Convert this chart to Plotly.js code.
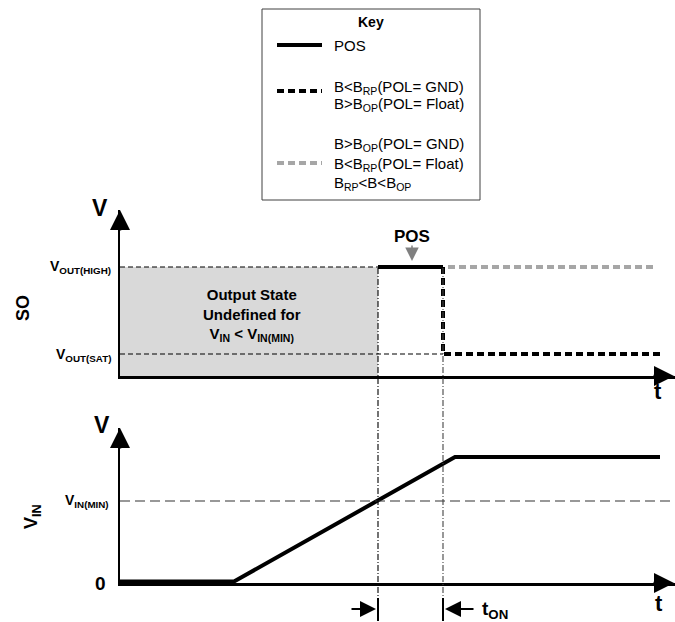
<!DOCTYPE html>
<html>
<head>
<meta charset="utf-8">
<script src="https://cdn.plot.ly/plotly-3.0.1.min.js"></script>
<style>html,body{margin:0;padding:0;background:#fff;}#chart{width:675px;height:622px;}</style>
</head>
<body>
<div id="chart"></div>
<script>
// ---- data (time in arbitrary units, voltages in arbitrary units) ----
const VOUT_HIGH = 10.9;
const VOUT_SAT = 2.2;
const VIN_MIN = 8.05;
const T_VIN_MIN = 25.8;   // VIN crosses VIN(MIN)
const T_ON_END = 32.3;    // end of tON
const T_AXIS_END = 55.5;

const tPos = [25.8, 32.3];
const soPos = [10.9, 10.9];
const tBlackDash = [32.3, 32.3, 54.0];
const soBlackDash = [10.9, 2.2, 2.2];
const tGrayDash = [32.8, 53.3];
const soGrayDash = [10.9, 10.9];
const tVin = [0, 11.4, 33.5, 54.0];
const vIn = [0, 0, 12.45, 12.45];

const keyLabels = [
  'POS',
  'B&lt;B<sub>RP</sub>(POL= GND)',
  'B&gt;B<sub>OP</sub>(POL= Float)',
  'B&gt;B<sub>OP</sub>(POL= GND)',
  'B&lt;B<sub>RP</sub>(POL= Float)',
  'B<sub>RP</sub>&lt;B&lt;B<sub>OP</sub>'
];

// ---- helpers for page placement ----
const W = 675, H = 622;
const P = px => px / W;
const Q = py => 1 - py / H;
const FONT = '"Liberation Sans", Arial, sans-serif';
const BLACK_DASH = '7px,4px';
const GRAY = '#a6a6a6';
const LW = 4;

const traces = [
  {x: tPos, y: soPos, xaxis: 'x', yaxis: 'y', mode: 'lines', name: 'POS',
   line: {color: '#000', width: LW}, hoverinfo: 'skip'},
  {x: tBlackDash, y: soBlackDash, xaxis: 'x', yaxis: 'y', mode: 'lines', name: 'black dash',
   line: {color: '#000', width: LW, dash: BLACK_DASH}, hoverinfo: 'skip'},
  {x: tGrayDash, y: soGrayDash, xaxis: 'x', yaxis: 'y', mode: 'lines', name: 'gray dash',
   line: {color: GRAY, width: LW, dash: BLACK_DASH}, hoverinfo: 'skip'},
  {x: tVin, y: vIn, xaxis: 'x2', yaxis: 'y2', mode: 'lines', name: 'VIN',
   line: {color: '#000', width: LW}, hoverinfo: 'skip'}
];

const axBase = {showgrid: false, zeroline: false, showticklabels: false, ticks: '',
  showline: true, linecolor: '#000', linewidth: 2.5, fixedrange: true};

const shapes = [
  // undefined region
  {type: 'rect', xref: 'x', yref: 'y', x0: 0, x1: T_VIN_MIN, y0: 0, y1: VOUT_HIGH,
   fillcolor: '#d9d9d9', line: {width: 0}, layer: 'below'},
  // reference levels
  {type: 'line', xref: 'x', yref: 'y', x0: 0, x1: T_VIN_MIN, y0: VOUT_HIGH, y1: VOUT_HIGH,
   line: {color: '#000', width: 1.1, dash: '5px,3px'}},
  {type: 'line', xref: 'x', yref: 'y', x0: 0, x1: T_ON_END, y0: VOUT_SAT, y1: VOUT_SAT,
   line: {color: '#000', width: 1.1, dash: '5px,3px'}},
  {type: 'line', xref: 'x2', yref: 'y2', x0: 0, x1: T_AXIS_END, y0: VIN_MIN, y1: VIN_MIN,
   line: {color: '#333', width: 1.1, dash: '10px,5px'}},
  // timing markers
  {type: 'line', xref: 'x', yref: 'paper', x0: T_VIN_MIN, x1: T_VIN_MIN, y0: Q(268), y1: Q(600),
   line: {color: '#000', width: 1.1, dash: '6px,2px,1px,2px'}},
  {type: 'line', xref: 'x', yref: 'paper', x0: T_ON_END, x1: T_ON_END, y0: Q(268), y1: Q(600),
   line: {color: '#444', width: 1.1, dash: '6px,2px,1px,2px'}},
  {type: 'line', xref: 'x', yref: 'paper', x0: T_VIN_MIN, x1: T_VIN_MIN, y0: Q(598), y1: Q(621),
   line: {color: '#000', width: 2}},
  {type: 'line', xref: 'x', yref: 'paper', x0: T_ON_END, x1: T_ON_END, y0: Q(598), y1: Q(621),
   line: {color: '#000', width: 2}},
  // key box
  {type: 'rect', xref: 'paper', yref: 'paper', x0: P(262), x1: P(480), y0: Q(9), y1: Q(200),
   line: {color: '#404040', width: 1}, fillcolor: 'rgba(0,0,0,0)'},
  {type: 'line', xref: 'paper', yref: 'paper', x0: P(277), x1: P(322), y0: Q(45), y1: Q(45),
   line: {color: '#000', width: LW}},
  {type: 'line', xref: 'paper', yref: 'paper', x0: P(277), x1: P(322), y0: Q(91), y1: Q(91),
   line: {color: '#000', width: LW, dash: BLACK_DASH}},
  {type: 'line', xref: 'paper', yref: 'paper', x0: P(277), x1: P(322), y0: Q(163), y1: Q(163),
   line: {color: GRAY, width: LW, dash: BLACK_DASH}}
];

function txt(px, py, text, size, opts) {
  return Object.assign({xref: 'paper', yref: 'paper', x: P(px), y: Q(py), text: text,
    showarrow: false, xanchor: 'center', yanchor: 'middle',
    font: {family: FONT, size: size, color: '#000'}}, opts || {});
}
function arrow(xref, x, yref, y, ax, ay, color, width, size) {
  return {xref: xref, yref: yref, x: x, y: y, ax: ax, ay: ay, text: '', showarrow: true,
    arrowhead: 2, arrowsize: size, arrowwidth: width, arrowcolor: color, standoff: 0};
}

const annotations = [
  // axis arrowheads
  arrow('x', 0, 'y', 16.6, 0, 22, '#000', 2.5, 1.6),
  arrow('x', T_AXIS_END - 0.1, 'y', 0, -22, 0, '#000', 2.5, 1.6),
  arrow('x2', 0, 'y2', 15.35, 0, 22, '#000', 2.5, 1.6),
  arrow('x2', T_AXIS_END - 0.1, 'y2', -0.15, -22, 0, '#000', 2.5, 1.6),
  // tON arrows
  arrow('x', T_VIN_MIN - 0.2, 'paper', Q(609), -26, 0, '#000', 2, 1.6),
  arrow('x', T_ON_END + 0.2, 'paper', Q(609), 30, 0, '#000', 2, 1.6),
  // POS pointer
  arrow('paper', P(412), 'paper', Q(261), 0, -17, '#808080', 1.5, 1.8),
  txt(412, 236, '<b>POS</b>', 17),
  txt(480, 610, '<b>t<sub>ON</sub></b>', 19, {xanchor: 'left'}),
  // axis labels
  txt(100, 208, '<b>V</b>', 23),
  txt(102, 425, '<b>V</b>', 23),
  txt(658, 391, '<b>t</b>', 22),
  txt(659, 603, '<b>t</b>', 22),
  txt(100, 583, '<b>0</b>', 19),
  txt(23, 308, '<b>SO</b>', 18, {textangle: -90}),
  txt(32, 517, '<b>V<sub>IN</sub></b>', 18, {textangle: -90}),
  txt(113, 267, '<b>V<sub>OUT(HIGH)</sub></b>', 14, {xanchor: 'right'}),
  txt(113, 355, '<b>V<sub>OUT(SAT)</sub></b>', 14, {xanchor: 'right'}),
  txt(111, 501, '<b>V<sub>IN(MIN)</sub></b>', 14, {xanchor: 'right'}),
  txt(252, 315, '<b>Output State<br>Undefined for<br>V<sub>IN</sub> &lt; V<sub>IN(MIN)</sub></b>', 15),
  // key
  txt(371, 22, '<b>Key</b>', 14),
  txt(332, 45, keyLabels[0], 15, {xanchor: 'left'}),
  txt(332, 87, keyLabels[1], 15, {xanchor: 'left'}),
  txt(332, 105, keyLabels[2], 15, {xanchor: 'left'}),
  txt(332, 144, keyLabels[3], 15, {xanchor: 'left'}),
  txt(332, 164, keyLabels[4], 15, {xanchor: 'left'}),
  txt(332, 183, keyLabels[5], 15, {xanchor: 'left'})
];

const layout = {
  width: W, height: H,
  margin: {l: 0, r: 0, t: 0, b: 0, pad: 0},
  paper_bgcolor: '#fff', plot_bgcolor: 'rgba(0,0,0,0)',
  showlegend: false,
  font: {family: FONT, color: '#000'},
  xaxis: Object.assign({}, axBase, {domain: [P(120), 1], range: [0, T_AXIS_END], anchor: 'y'}),
  yaxis: Object.assign({}, axBase, {domain: [Q(376), Q(210)], range: [0, 16.6], anchor: 'x'}),
  xaxis2: Object.assign({}, axBase, {domain: [P(120), 1], range: [0, T_AXIS_END], anchor: 'y2'}),
  yaxis2: Object.assign({}, axBase, {domain: [Q(583), Q(428)], range: [-0.15, 15.35], anchor: 'x2'}),
  shapes: shapes,
  annotations: annotations
};

Plotly.newPlot('chart', traces, layout, {staticPlot: true, displayModeBar: false});
</script>
</body>
</html>
